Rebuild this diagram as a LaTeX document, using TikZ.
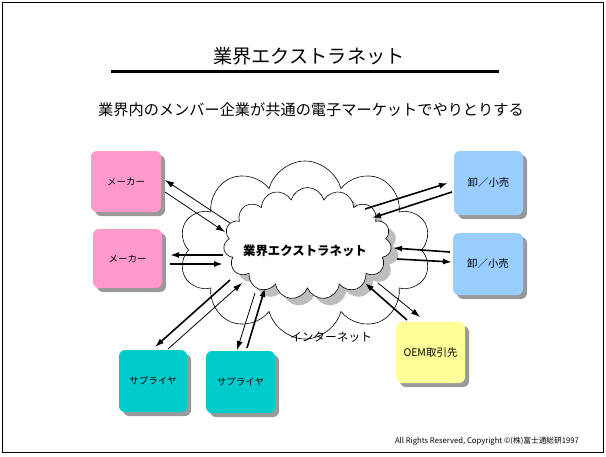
\documentclass[tikz,border=0pt]{standalone}
\usepackage{fontspec}
\setmainfont{Noto Sans CJK JP}
\usetikzlibrary{shapes.symbols,arrows.meta,shadows}
\definecolor{pinkbox}{HTML}{FF99CC}
\definecolor{bluebox}{HTML}{99CCFF}
\definecolor{tealbox}{HTML}{00CCCC}
\definecolor{yellowbox}{HTML}{FFFF99}
\definecolor{boxshadow}{HTML}{999999}
\definecolor{cloudshadow}{HTML}{BDBDBD}
\tikzset{
  box/.style={rounded corners=6pt, inner sep=0pt, draw=none,
    font=\fontsize{9.5}{11}\selectfont,
    drop shadow={opacity=1, fill=boxshadow, shadow xshift=4pt, shadow yshift=-4pt}},
  arr/.style={-{Latex[length=9pt,width=6pt]}},
  thinline/.style={line width=0.8pt},
  thickline/.style={line width=1.6pt},
}
\begin{document}
\begin{tikzpicture}[x=1pt,y=-1pt]
\useasboundingbox (0,0) rectangle (606,456);
\draw[line width=1pt] (2,2) rectangle (603,452);

\node (title) at (309,56) {\fontsize{19.2}{22}\selectfont 業界エクストラネット};
\coordinate (ulL) at (111,71);
\coordinate (ulR) at (499,71);
\draw[line width=3pt] (ulL) -- (ulR);
\node (subtitle) at (311,110) {\fontsize{15.2}{18}\selectfont 業界内のメンバー企業が共通の電子マーケットでやりとりする};

% clouds
\node[cloud, cloud puffs=10, cloud ignores aspect, draw, line width=0.6pt, fill=white,
  minimum width=252pt, minimum height=178pt, inner sep=0pt] (internet) at (305,250) {};
\node[cloud, cloud puffs=15, cloud ignores aspect, draw, line width=0.6pt, fill=white,
  minimum width=168pt, minimum height=112pt, inner sep=0pt,
  drop shadow={opacity=1, fill=cloudshadow, shadow xshift=7pt, shadow yshift=-7pt}] (extranet) at (307.5,243.5) {};
\node[font=\bfseries\fontsize{12.4}{14}\selectfont] (extranetlabel) at (305,251) {業界エクストラネット};
\node[font=\fontsize{11.7}{13}\selectfont] (netlabel) at (331,337) {インターネット};

% boxes
\node[box, fill=pinkbox, minimum width=70pt, minimum height=61pt] (maker1) at (126,181.5) {メーカー};
\node[box, fill=pinkbox, minimum width=69pt, minimum height=59pt] (maker2) at (127.5,258.5) {メーカー};
\node[box, fill=bluebox, minimum width=69pt, minimum height=64pt, font=\fontsize{10.4}{12}\selectfont] (ws1) at (488.5,183) {卸／小売};
\node[box, fill=bluebox, minimum width=70pt, minimum height=62pt, font=\fontsize{10.4}{12}\selectfont] (ws2) at (488,264) {卸／小売};
\node[box, fill=tealbox, minimum width=68pt, minimum height=62pt] (sup1) at (153,381) {サプライヤ};
\node[box, fill=tealbox, minimum width=69pt, minimum height=62pt] (sup2) at (240.5,382) {サプライヤ};
\node[box, fill=yellowbox, minimum width=69pt, minimum height=61pt, font=\fontsize{10.5}{12}\selectfont] (oem) at (430.5,352.5) {OEM取引先};

% arrows
\draw[arr,thinline] ([shift={(-77.5,-20.5)}]extranet.center) -- ([shift={(39,-1.5)}]maker1.center);
\draw[arr,thinline] ([shift={(39,10.5)}]maker1.center) -- ([shift={(-82.5,-11.5)}]extranet.center);
\draw[arr,thickline] ([shift={(-84.5,11.5)}]extranet.center) -- ([shift={(42.5,-3.5)}]maker2.center);
\draw[arr,thickline] ([shift={(42.5,5.5)}]maker2.center) -- ([shift={(-84.5,20.5)}]extranet.center);
\draw[arr,thickline] ([shift={(57.5,-34.5)}]extranet.center) -- ([shift={(-40.5,0)}]ws1.center);
\draw[arr,thickline] ([shift={(-36.5,9)}]ws1.center) -- ([shift={(64.5,-25.5)}]extranet.center);
\draw[arr,thickline] ([shift={(-38,-12)}]ws2.center) -- ([shift={(85.5,4.5)}]extranet.center);
\draw[arr,thickline] ([shift={(89.5,15.5)}]extranet.center) -- ([shift={(-36,-2)}]ws2.center);
\draw[arr,thickline] ([shift={(-77.5,36.5)}]extranet.center) -- ([shift={(2,-34)}]sup1.center);
\draw[arr,thinline] ([shift={(15,-32)}]sup1.center) -- ([shift={(-65.5,39.5)}]extranet.center);
\draw[arr,thinline] ([shift={(-52.5,49.5)}]extranet.center) -- ([shift={(-3.5,-32)}]sup2.center);
\draw[arr,thickline] ([shift={(6.5,-34)}]sup2.center) -- ([shift={(-42.5,44.5)}]extranet.center);
\draw[arr,thickline] ([shift={(-23.5,-32.5)}]oem.center) -- ([shift={(57.5,39.5)}]extranet.center);
\draw[arr,thinline] ([shift={(70.5,39.5)}]extranet.center) -- ([shift={(-10.5,-35.5)}]oem.center);

\node[font=\fontsize{7.7}{9}\selectfont] (copyright) at (487,441) {All Rights Reserved, Copyright ©(株)富士通総研1997};
\end{tikzpicture}
\end{document}
